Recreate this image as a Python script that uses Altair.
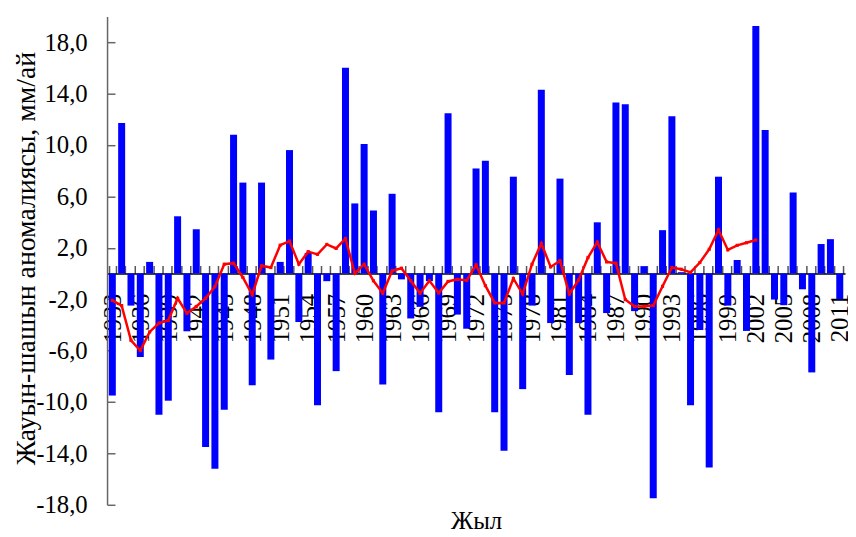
import altair as alt
import pandas as pd

years = list(range(1933, 2012))
anomaly = [
    -9.5, 11.7, -2.5, -6.5, 0.9, -11.0, -9.9, 4.45, -4.5, 3.44,
    -13.5, -15.2, -10.6, 10.8, 7.07, -8.7, 7.07, -6.7, 0.9, 9.6,
    -3.78, 1.6, -10.26, -0.6, -7.6, 16.0, 5.45, 10.08, 4.9, -8.64,
    6.2, -0.46, -3.5, -2.6, -0.6, -10.8, 12.47, -3.2, -4.3, 8.17,
    8.77, -10.8, -13.8, 7.53, -9.0, -2.5, 14.3, -3.86, 7.38, -7.9,
    -3.86, -11.0, 3.98, -3.08, 13.3, 13.16, -2.93, 0.57, -17.5, 3.37,
    12.24, 0.1, -10.26, -4.4, -15.1, 7.53, -2.5, 1.05, -4.47, 19.25,
    11.16, -2.03, -2.47, 6.3, -1.23, -7.7, 2.29, 2.67, -2.0,
]
smooth_years = list(range(1933, 2003))
smooth = [
    -2.1, -2.5, -5.2, -6.0, -4.55, -3.86, -3.65, -1.93, -3.1, -2.57,
    -1.93, -1.03, 0.72, 0.8, -0.31, -1.65, 0.6, 0.46, 2.2, 2.52,
    0.72, 1.7, 1.49, 2.26, 1.95, 2.72, 0.0, 0.72, -0.57, -1.54,
    0.2, 0.41, -0.57, -1.54, -0.57, -1.52, -0.62, -0.46, -0.55, 0.67,
    -0.95, -2.29, -2.29, -0.39, -1.6, 0.72, 2.34, 0.51, 1.0, -1.6,
    -0.51, 1.23, 2.44, 0.9, 0.8, -2.03, -2.57, -2.55, -2.5, -1.0,
    0.46, 0.33, 0.08, 0.85, 1.88, 3.39, 1.83, 2.19, 2.39, 2.6,
]
y_ticks = [-18, -14, -10, -6, -2, 2, 6, 10, 14, 18]

bars_df = pd.DataFrame({"year": years, "value": anomaly})
line_df = pd.DataFrame({"year": smooth_years, "value": smooth})

W, H = 745, 493
YMIN, YMAX = -18, 20
zero_off = H * YMAX / (YMAX - YMIN)
FONT = "Liberation Serif"

x_scale = alt.Scale(domain=years, paddingInner=0.25, paddingOuter=0.19)
y_scale = alt.Scale(domain=[YMIN, YMAX], nice=False, zero=False)

x_axis_top = alt.Axis(
    orient="top", offset=-zero_off, title=None, tickBand="extent",
    ticks=True, tickSize=8, tickColor="#555555", tickWidth=1.5,
    domainColor="black", domainWidth=1.5,
    labelAngle=270, labelAlign="right", labelBaseline="middle",
    labelPadding=-28, labelOverlap=False, labelFlush=False,
    labelExpr="(datum.value - 1933) % 3 == 0 ? datum.label : ''",
    labelFont=FONT, labelFontSize=25, labelColor="black", grid=False,
)
x_axis_bottom = alt.Axis(
    orient="bottom", title="Жыл", labels=False, ticks=False, domain=False,
    grid=False, titleFont=FONT, titleFontSize=25, titleFontWeight="normal",
    titleColor="black", titlePadding=4,
)
y_axis_left = alt.Axis(
    orient="left", values=y_ticks, ticks=False, grid=False,
    domainColor="#666666", domainWidth=1.5,
    labelExpr="(datum.value < 0 ? '-' : '') + replace(format(abs(datum.value), '.1f'), '.', ',')",
    labelFont=FONT, labelFontSize=25, labelColor="black", labelPadding=20,
    labelOverlap=False,
    title="Жауын-шашын аномалиясы, мм/ай", titleFont=FONT, titleFontSize=28,
    titleFontWeight="normal", titleColor="black",
    titleAngle=270, titleBaseline="top", titleAlign="center",
    titleX=-95, titleY=244,
)
y_axis_ticks = alt.Axis(
    orient="right", offset=-W, values=y_ticks, labels=False, domain=False,
    ticks=True, tickSize=8, tickColor="#666666", tickWidth=1.5, grid=False,
    title=None,
)

bars = alt.Chart(bars_df).mark_bar(color="#0000FF").encode(
    x=alt.X("year:O", scale=x_scale, axis=x_axis_top),
    y=alt.Y("value:Q", scale=y_scale, axis=y_axis_left),
)

line = alt.Chart(line_df).mark_line(
    color="#FF0000", strokeWidth=2.5,
    point=alt.OverlayMarkDef(filled=True, color="#FF0000", size=10, shape="square"),
).encode(
    x=alt.X("year:O", scale=x_scale, axis=x_axis_bottom),
    y=alt.Y("value:Q", scale=y_scale, axis=y_axis_ticks),
)

chart = alt.layer(bars, line).resolve_axis(
    x="independent", y="independent"
).properties(
    width=W, height=H,
    autosize=alt.AutoSizeParams(type="none"),
    padding={"left": 100, "top": 6, "right": 3, "bottom": 30},
).configure_view(stroke=None)

chart.save("out.html", embed_options={"renderer": "svg", "actions": False})
